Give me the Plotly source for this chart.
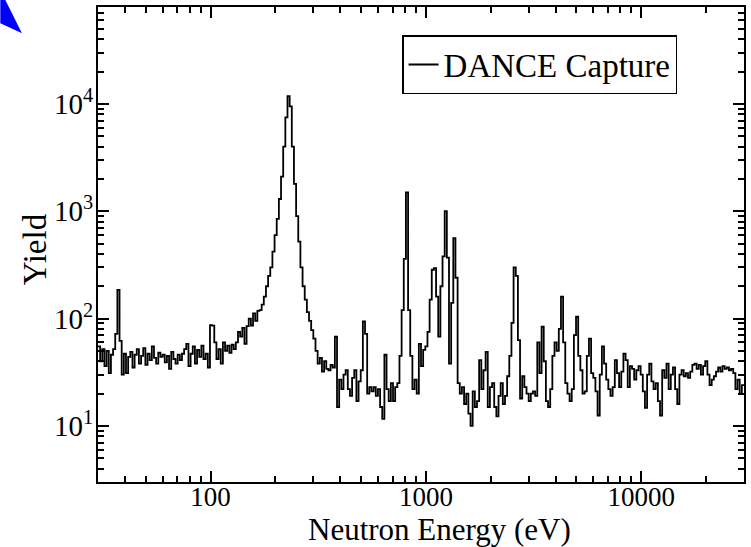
import numpy as np
import plotly.graph_objects as go

# ---- data: DANCE capture yield, 300 log-spaced bins from 30 eV to 30 keV ----
E_MIN, E_MAX = 30.0, 30000.0

yield_low = [55, 40, 52, 36, 50, 31, 46, 52, 72, 185,
             62, 30, 47, 31, 44, 49, 35, 46, 52, 38,
             45, 53, 37, 47, 41, 55, 43, 38, 48, 44,
             46, 39, 45, 34, 49, 42, 38, 46, 41, 47,
             52, 58, 36, 47, 55, 38, 51, 44, 56, 42]

yield_peak = [47, 35, 87, 86, 60, 42, 52, 38, 60, 50,
              56, 48, 57, 52, 60, 75, 68, 82, 58, 85,
              100, 86, 112, 95, 118, 120, 135, 160, 200, 250,
              300, 420, 600, 850, 1300, 2100, 4000, 7500, 11800, 9500,
              4000, 1800, 900, 520, 300, 200, 150, 115, 95, 78,
              65, 50, 38, 43, 32, 40, 34, 33, 37, 35]

yield_mid = [68, 15, 27, 22, 30, 33, 22, 19, 28, 33,
             17, 26, 33, 94, 72, 20, 23, 21, 23, 19,
             22, 15, 11.6, 46, 22, 17, 25, 17, 23, 25,
             45, 120, 360, 1500, 120, 45, 22, 27, 20, 58,
             36, 51, 55, 75, 150, 285, 295, 160, 68, 200,
             380, 1000, 370, 38, 140, 560, 240, 25, 20, 23,
             16, 20, 13, 10, 21, 15, 17, 41, 22, 33,
             49, 15, 23, 25, 15, 12.3, 19, 25, 16, 19,
             29, 45, 91, 300, 250, 63, 18, 29, 23, 20]

yield_high = [17, 20, 21, 19, 60, 31, 84, 40, 17, 15,
              22, 45, 60, 50, 80, 160, 60, 25, 20, 17,
              22, 70, 104, 45, 33, 20, 21, 45, 65, 31,
              28, 21, 12.5, 30, 55, 38, 27, 22, 19, 23,
              41, 31, 23, 32, 47, 41, 23, 36, 34, 27,
              33, 36, 30, 21, 14.7, 30, 38, 26, 22, 25,
              17, 12.5, 33, 28, 38, 22, 30, 35, 22, 16,
              30, 33, 29, 31, 28, 32, 37, 38, 34, 37,
              30, 36, 40, 30, 24, 27, 29, 32, 35, 32,
              36, 34, 35, 33, 34, 31, 22, 27, 20, 24]

x_tick_vals = [100, 1000, 10000]
x_tick_text = ["100", "1000", "10000"]
y_tick_vals = [10, 100, 1000, 10000]
y_tick_text = ["10<sup>1</sup>", "10<sup>2</sup>", "10<sup>3</sup>", "10<sup>4</sup>"]
series_name = "DANCE Capture"
x_title = "Neutron Energy (eV)"
y_title = "Yield"

# ---- build histogram steps ----
yields = np.array(yield_low + yield_peak + yield_mid + yield_high, dtype=float)
edges = np.geomspace(E_MIN, E_MAX, len(yields) + 1)
xs = np.append(edges[:-1], edges[-1])
ys = np.append(yields, yields[-1])

FONT = "Liberation Serif, Times New Roman, serif"

fig = go.Figure()
fig.add_trace(go.Scatter(
    x=xs, y=ys, mode="lines", line=dict(color="black", width=1.8, shape="hv"),
    name=series_name, showlegend=True,
))

def minor_vals(lo_exp, hi_exp):
    return [m * 10 ** e for e in range(lo_exp, hi_exp) for m in range(2, 10)]

fig.update_xaxes(
    type="log", range=[np.log10(E_MIN), np.log10(E_MAX)],
    showline=True, linecolor="black", linewidth=2, mirror="ticks",
    ticks="inside", ticklen=11, tickwidth=2, tickcolor="black",
    tickmode="array", tickvals=x_tick_vals, ticktext=x_tick_text,
    tickfont=dict(family=FONT, size=27, color="black"),
    ticklabelstandoff=-10,
    minor=dict(ticks="inside", ticklen=6, tickwidth=1.5, tickcolor="black",
               tickmode="array", tickvals=minor_vals(1, 5), showgrid=False),
    showgrid=False, zeroline=False,
)
fig.update_yaxes(
    type="log", range=[np.log10(3), np.log10(80000)],
    showline=True, linecolor="black", linewidth=2, mirror="ticks",
    ticks="inside", ticklen=11, tickwidth=2, tickcolor="black",
    tickmode="array", tickvals=y_tick_vals, ticktext=y_tick_text,
    tickfont=dict(family=FONT, size=29, color="black"),
    ticklabelstandoff=-3,
    minor=dict(ticks="inside", ticklen=6, tickwidth=1.5, tickcolor="black",
               tickmode="array", tickvals=minor_vals(0, 5), showgrid=False),
    showgrid=False, zeroline=False,
)

fig.update_layout(
    width=751, height=547,
    margin=dict(l=98, r=5, t=7, b=65),
    paper_bgcolor="white", plot_bgcolor="white",
    font=dict(family=FONT, color="black"),
    legend=dict(x=0.4707, y=0.941, xanchor="left", yanchor="top",
                bgcolor="white", bordercolor="black", borderwidth=1.5,
                font=dict(family=FONT, size=33, color="black"),
                itemwidth=30, tracegroupgap=0),
    annotations=[
        dict(text=x_title, xref="paper", yref="paper", x=0.529, y=-0.1005,
             xanchor="center", yanchor="middle", showarrow=False, borderpad=0,
             font=dict(family=FONT, size=31, color="black")),
        dict(text=y_title, xref="paper", yref="paper", x=-0.097, y=0.4905,
             xanchor="center", yanchor="middle", showarrow=False, textangle=-90,
             font=dict(family=FONT, size=33, color="black")),
    ],
    shapes=[dict(type="path", xref="paper", yref="paper",
                 path="M -0.1512 1.0147 L -0.1435 1.0147 L -0.1177 0.9446 L -0.1512 0.9657 Z",
                 fillcolor="#0000ff", line=dict(width=0), layer="above")],
)

fig.write_html("out.html")
